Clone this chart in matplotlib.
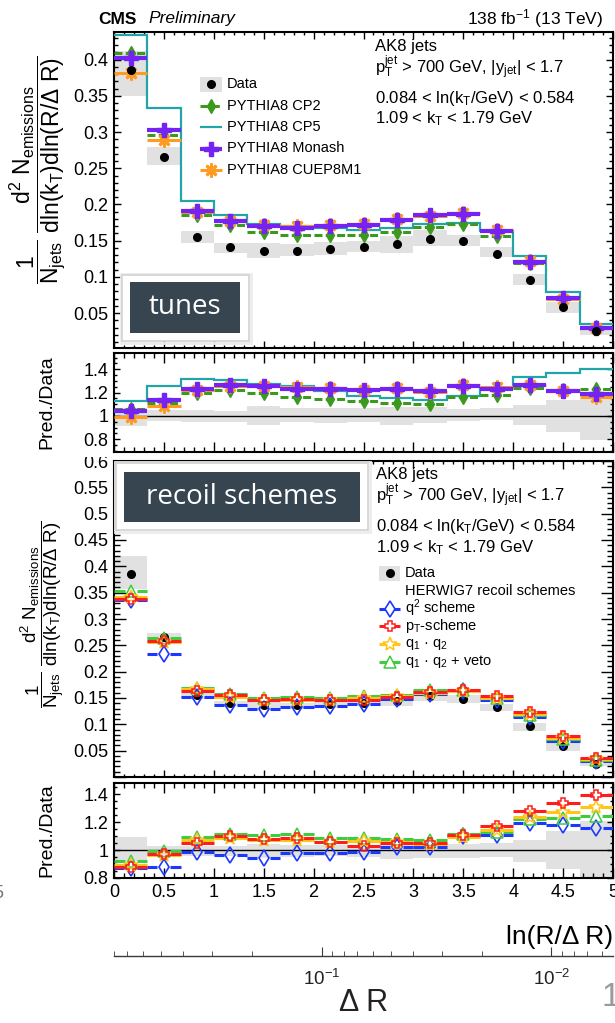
import numpy as np
import matplotlib
matplotlib.use("Agg")
import matplotlib.pyplot as plt
import matplotlib.transforms as mtransforms
from matplotlib.lines import Line2D
from matplotlib.patches import Rectangle
from matplotlib.ticker import MultipleLocator, FuncFormatter, LogLocator, NullFormatter

plt.rcParams["font.family"] = ["Liberation Sans", "DejaVu Sans"]
plt.rcParams["mathtext.fontset"] = "custom"
plt.rcParams["mathtext.rm"] = "Liberation Sans"
plt.rcParams["mathtext.it"] = "Liberation Sans:italic"
plt.rcParams["mathtext.bf"] = "Liberation Sans:bold"
plt.rcParams["mathtext.default"] = "regular"

R = 0.8  # AK8 jet radius
edges = np.linspace(0, 5, 16)
centers = 0.5 * (edges[:-1] + edges[1:])
width = edges[1] - edges[0]

# unfolded data, 0.084 < ln(kT/GeV) < 0.584
data = np.array([0.385, 0.266, 0.155, 0.141, 0.136, 0.136, 0.138, 0.141,
                 0.145, 0.153, 0.149, 0.132, 0.096, 0.058, 0.0255])
# relative data uncertainty (upper / lower edge of the grey band)
unc_up_tunes = np.array([1.070, 1.052, 1.052, 1.045, 1.085, 1.065, 1.071, 1.065,
                         1.077, 1.077, 1.063, 1.068, 1.091, 1.134, 1.148])
unc_dn_tunes = np.array([0.909, 0.957, 0.951, 0.946, 0.923, 0.946, 0.943, 0.950,
                         0.921, 0.935, 0.955, 0.963, 0.921, 0.864, 0.793])
unc_up_recoil = np.array([1.092, 1.030, 1.030, 1.030, 1.043, 1.035, 1.035, 1.035,
                          1.040, 1.040, 1.040, 1.050, 1.070, 1.135, 1.210])
unc_dn_recoil = np.array([0.925, 0.955, 0.960, 0.960, 0.940, 0.950, 0.955, 0.950,
                          0.935, 0.945, 0.945, 0.950, 0.915, 0.865, 0.790])

# PYTHIA8 tunes
cp2 = np.array([0.4093, 0.2963, 0.1854, 0.1719, 0.1627, 0.1580, 0.1584, 0.1586,
                0.1615, 0.1691, 0.1731, 0.1560, 0.1188, 0.0711, 0.0313])
cp5 = np.array([0.4343, 0.3338, 0.2043, 0.1850, 0.1734, 0.1704, 0.1674, 0.1650,
                0.1678, 0.1735, 0.1743, 0.1634, 0.1284, 0.0794, 0.0358])
monash = np.array([0.4016, 0.3030, 0.1911, 0.1778, 0.1707, 0.1677, 0.1702, 0.1719,
                   0.1788, 0.1851, 0.1870, 0.1628, 0.1211, 0.0704, 0.0302])
cuep8m1 = np.array([0.3812, 0.2886, 0.1891, 0.1767, 0.1714, 0.1700, 0.1711, 0.1727,
                    0.1798, 0.1844, 0.1885, 0.1650, 0.1214, 0.0702, 0.0296])

# HERWIG7 recoil schemes
q2 = np.array([0.3353, 0.2341, 0.1524, 0.1359, 0.1282, 0.1327, 0.1347, 0.1386,
               0.1478, 0.1567, 0.1639, 0.1463, 0.1146, 0.0684, 0.0295])
ptsch = np.array([0.3388, 0.2583, 0.1628, 0.1550, 0.1467, 0.1477, 0.1456, 0.1454,
                  0.1520, 0.1607, 0.1654, 0.1544, 0.1227, 0.0776, 0.0355])
q1q2 = np.array([0.3427, 0.2567, 0.1666, 0.1528, 0.1455, 0.1462, 0.1463, 0.1502,
                 0.1537, 0.1599, 0.1633, 0.1505, 0.1190, 0.0740, 0.0333])
veto = np.array([0.3538, 0.2633, 0.1691, 0.1572, 0.1507, 0.1516, 0.1496, 0.1530,
                 0.1565, 0.1645, 0.1661, 0.1494, 0.1174, 0.0713, 0.0317])

GREY = "#e1e1e1"
C_CP2, C_CP5, C_MON, C_CUE = "#3b9a1d", "#22a4a8", "#7423f2", "#ff9b21"
C_Q2, C_PT, C_Q1Q2, C_VETO = "#1c38ff", "#ff1c1c", "#ffc619", "#3fcc3f"

tune_styles = [
    (cp2, dict(color=C_CP2, lw=2.2, ls=(0, (2.6, 1.1))), dict(marker="d", ms=7.5, color=C_CP2)),
    (cuep8m1, dict(color=C_CUE, lw=2.2), dict(marker=(8, 2, 0), ms=10, color=C_CUE, mew=2)),
    (monash, dict(color=C_MON, lw=3.0), dict(marker="P", ms=9.5, color=C_MON)),
]
recoil_styles = [
    (q2, dict(color=C_Q2, lw=2.2, gap=0.065), dict(marker="d", ms=8.5, mfc="none", mec=C_Q2, mew=1.2)),
    (veto, dict(color=C_VETO, lw=2.2, gap=0.06), dict(marker="^", ms=8, mfc="none", mec=C_VETO, mew=1.1)),
    (q1q2, dict(color=C_Q1Q2, lw=2.2, gap=0.04), dict(marker="*", ms=10, mfc="none", mec=C_Q1Q2, mew=1.1)),
    (ptsch, dict(color=C_PT, lw=2.2, gap=0.035), dict(marker="P", ms=7.5, mfc="none", mec=C_PT, mew=1.1)),
]

W, H = 615, 1023
fig = plt.figure(figsize=(W / 100, H / 100), dpi=100)
# pixel coordinates, origin top-left
PX = mtransforms.Affine2D().scale(1 / W, -1 / H).translate(0, 1) + fig.transFigure


def add_ax(x0, y0, x1, y1):
    return fig.add_axes([x0 / W, 1 - y1 / H, (x1 - x0) / W, (y1 - y0) / H])


def frame(ax, ylim, ymaj, ymin, xlen, ylen):
    ax.set_xlim(0, 5)
    ax.set_ylim(*ylim)
    ax.xaxis.set_major_locator(MultipleLocator(0.5))
    ax.xaxis.set_minor_locator(MultipleLocator(0.1))
    ax.yaxis.set_major_locator(MultipleLocator(ymaj))
    ax.yaxis.set_minor_locator(MultipleLocator(ymin))
    ax.tick_params(which="both", direction="in", top=True, right=True, width=1.0,
                   labelsize=13, pad=4, labelbottom=False)
    ax.tick_params(axis="x", which="major", length=xlen[0])
    ax.tick_params(axis="x", which="minor", length=xlen[1])
    ax.tick_params(axis="y", which="major", length=ylen[0])
    ax.tick_params(axis="y", which="minor", length=ylen[1])
    ax.yaxis.set_major_formatter(FuncFormatter(lambda v, p: "" if v < 0.01 else f"{v:g}"))
    for s in ax.spines.values():
        s.set_linewidth(1.5)


def band(ax, lo, hi):
    ax.bar(centers, hi - lo, bottom=lo, width=width, color=GREY, lw=0, zorder=1)


def hist(ax, y, color, lw, ls="-", gap=0.0):
    kw = dict(colors=color, lw=lw, linestyles=[ls], capstyle="butt", zorder=3)
    if gap > 0:
        ax.hlines(y, edges[:-1], centers - gap, **kw)
        ax.hlines(y, centers + gap, edges[1:], **kw)
    else:
        ax.hlines(y, edges[:-1], edges[1:], **kw)


def series(ax, y, lstyle, mstyle):
    ls = dict(lstyle)
    hist(ax, y, ls.pop("color"), ls.pop("lw"), ls.pop("ls", "-"), ls.pop("gap", 0.0))
    ax.plot(centers, y, ls="none", zorder=4, **mstyle)


# ---- PYTHIA8 tunes ----
ax1 = add_ax(114, 32, 613, 348)
ax2 = add_ax(114, 353, 613, 452)
frame(ax1, (0.002, 0.438), 0.05, 0.01, (5, 2.5), (5, 2.9))
frame(ax2, (0.69, 1.54), 0.2, 0.05, (7.2, 3.6), (4.3, 2.2))

band(ax1, data * unc_dn_tunes, data * unc_up_tunes)
ax1.plot(centers, data, "o", color="k", ms=5.5, zorder=5)
ax1.stairs(cp5, edges, baseline=None, color=C_CP5, lw=1.6, zorder=3)
band(ax2, unc_dn_tunes, unc_up_tunes)
ax2.axhline(1, color="k", lw=1.0, zorder=2)
ax2.stairs(cp5 / data, edges, baseline=None, color=C_CP5, lw=1.6, zorder=3)
for y, lst, mst in tune_styles:
    series(ax1, y, lst, mst)
    series(ax2, y / data, lst, mst)

# ---- HERWIG7 recoil schemes ----
ax3 = add_ax(114, 461, 613, 777)
ax4 = add_ax(114, 783, 613, 878)
frame(ax3, (0.0, 0.6), 0.05, 0.01, (5.4, 2.5), (8.6, 4.3))
frame(ax4, (0.8, 1.48), 0.2, 0.05, (7.2, 3.6), (4.3, 2.2))
ax4.tick_params(labelbottom=True)
ax4.xaxis.set_major_formatter(FuncFormatter(lambda v, p: f"{v:g}"))

band(ax3, data * unc_dn_recoil, data * unc_up_recoil)
ax3.plot(centers, data, "o", color="k", ms=5.5, zorder=3.5)
band(ax4, unc_dn_recoil, unc_up_recoil)
ax4.axhline(1, color="k", lw=1.0, zorder=2)
for y, lst, mst in recoil_styles:
    series(ax3, y, lst, mst)
    series(ax4, y / data, lst, mst)

# axis titles, the long one is top-aligned like in ROOT
ylab = (r"$\dfrac{1}{N_{jets}}\ \dfrac{d^{2}\ N_{emissions}}"
        r"{dln(k_{T})dln(R/\Delta\ R)}$")
fig.text(67, 56, ylab, transform=PX, fontsize=16.5, rotation=90,
         rotation_mode="anchor", ha="right", va="bottom")
fig.text(67, 521, ylab, transform=PX, fontsize=13.5, rotation=90,
         rotation_mode="anchor", ha="right", va="bottom")
for ax in (ax2, ax4):
    ax.set_ylabel("Pred./Data", fontsize=14)
    ax.yaxis.set_label_coords(-0.118, 0.5)
ax4.set_xlabel("ln(R/Δ R)", fontsize=19, loc="right")
ax4.xaxis.set_label_coords(1.0, -0.49)

# secondary Delta R axis
axdr = add_ax(114, 955, 613, 956)
axdr.set_xscale("log")
axdr.set_xlim(R, R * np.exp(-5))
for s in ("left", "right", "top"):
    axdr.spines[s].set_visible(False)
axdr.spines["bottom"].set_color("#3a3a3a")
axdr.spines["bottom"].set_linewidth(1.0)
axdr.yaxis.set_visible(False)
axdr.patch.set_visible(False)
axdr.xaxis.set_major_locator(LogLocator(base=10))
axdr.xaxis.set_minor_locator(LogLocator(base=10, subs=np.arange(2, 10)))
axdr.xaxis.set_minor_formatter(NullFormatter())
axdr.tick_params(which="both", direction="in", colors="#3a3a3a", labelcolor="#222222",
                 labelsize=13.5, pad=9)
axdr.tick_params(which="major", length=6.5)
axdr.tick_params(which="minor", length=3.3)
fig.text(363.5, 1003, "Δ R", transform=PX, fontsize=22, ha="center", va="center", color="#222222")


# legends
def legend_row(y, x0, x1, label, line=None, marker=None, box=False):
    if box:
        fig.add_artist(Rectangle((x0, y - 7.5), x1 - x0, 15, transform=PX, fc=GREY, lw=0))
    if line is not None:
        fig.add_artist(Line2D([x0, x1], [y, y], transform=PX, solid_capstyle="butt",
                              dash_capstyle="butt", **line))
    if marker is not None:
        fig.add_artist(Line2D([(x0 + x1) / 2], [y], transform=PX, ls="none", **marker))
    fig.text(x1 + 5, y, label, transform=PX, fontsize=10.5, va="center")


dot = dict(marker="o", color="k", ms=5.5)
top_rows = [
    ("Data", None, dot, True),
    ("PYTHIA8 CP2", dict(color=C_CP2, lw=2.2, ls=(0, (2.6, 1.1))), tune_styles[0][2], False),
    ("PYTHIA8 CP5", dict(color=C_CP5, lw=1.6), None, False),
    ("PYTHIA8 Monash", dict(color=C_MON, lw=3.0), tune_styles[2][2], False),
    ("PYTHIA8 CUEP8M1", dict(color=C_CUE, lw=2.2), tune_styles[1][2], False),
]
for i, (lab, ln, mk, bx) in enumerate(top_rows):
    legend_row(84 + 21.5 * i, 200, 222, lab, ln, mk, bx)


def open_marker(m):
    m = dict(m)
    m["mfc"] = "white"
    return m


bot_rows = [
    ("Data", None, dot, True),
    ("HERWIG7 recoil schemes", None, None, False),
    (r"q$^{2}$ scheme", dict(color=C_Q2, lw=2.2), open_marker(recoil_styles[0][2]), False),
    (r"p$_{T}$-scheme", dict(color=C_PT, lw=2.2), open_marker(recoil_styles[3][2]), False),
    (r"q$_{1}$ · q$_{2}$", dict(color=C_Q1Q2, lw=2.2), open_marker(recoil_styles[2][2]), False),
    (r"q$_{1}$ · q$_{2}$ + veto", dict(color=C_VETO, lw=2.2), open_marker(recoil_styles[1][2]), False),
]
for i, (lab, ln, mk, bx) in enumerate(bot_rows):
    legend_row(573 + 17.8 * i, 379, 400, lab, ln, mk, bx)


# selection text
def selection(x, ys):
    lines = ["AK8 jets",
             r"$p_{T}^{jet}$ > 700 GeV, |$y_{jet}$| < 1.7",
             r"0.084 < ln($k_{T}$/GeV) < 0.584",
             r"1.09 < $k_{T}$ < 1.79 GeV"]
    for s, y in zip(lines, ys):
        fig.text(x, y, s, transform=PX, fontsize=12, va="center")


selection(375, [46, 68, 98, 119])
selection(376, [474, 496, 527, 548])

# header
fig.text(98, 19, "CMS", transform=PX, fontsize=12.5, weight="bold", va="center")
fig.text(148, 19, "Preliminary", transform=PX, fontsize=12.5, style="italic", va="center")
fig.text(603, 19, r"138 fb$^{-1}$ (13 TeV)", transform=PX, fontsize=12.5, ha="right", va="center")


# slide tags
def tag(outer, inner, text):
    ox0, oy0, ox1, oy1 = outer
    ix0, iy0, ix1, iy1 = inner
    fig.add_artist(Rectangle((ox0 - 1.5, oy0 - 1.5), ox1 - ox0 + 3, oy1 - oy0 + 3, transform=PX,
                             fc="none", ec="#ececec", lw=2, zorder=5))
    fig.add_artist(Rectangle((ox0, oy0), ox1 - ox0, oy1 - oy0, transform=PX,
                             fc="white", ec="#d2d2d2", lw=1.2, zorder=5))
    fig.add_artist(Rectangle((ix0, iy0), ix1 - ix0, iy1 - iy0, transform=PX,
                             fc="#36454f", lw=0, zorder=6))
    fig.text((ix0 + ix1) / 2, (iy0 + iy1) / 2, text, transform=PX, fontsize=20,
             family="Open Sans", color="white", ha="center", va="center", zorder=7)


tag((122, 275, 249, 341), (130, 282, 240, 333), "tunes")
tag((116, 463, 368, 530), (124, 472, 360, 522), "recoil schemes")

# top part of the lower plot is tucked under the upper one
fig.add_artist(Rectangle((0, 453.5), 112, 3.5, transform=PX, fc="white", lw=0, zorder=4))

# page number and neighbouring slide residue
fig.text(601, 997, "1", transform=PX, fontsize=24, color="#9a9a9a", va="center")
fig.text(-7, 893, "5", transform=PX, fontsize=13, color="#777777", va="center")

fig.savefig("out.png", dpi=100)
